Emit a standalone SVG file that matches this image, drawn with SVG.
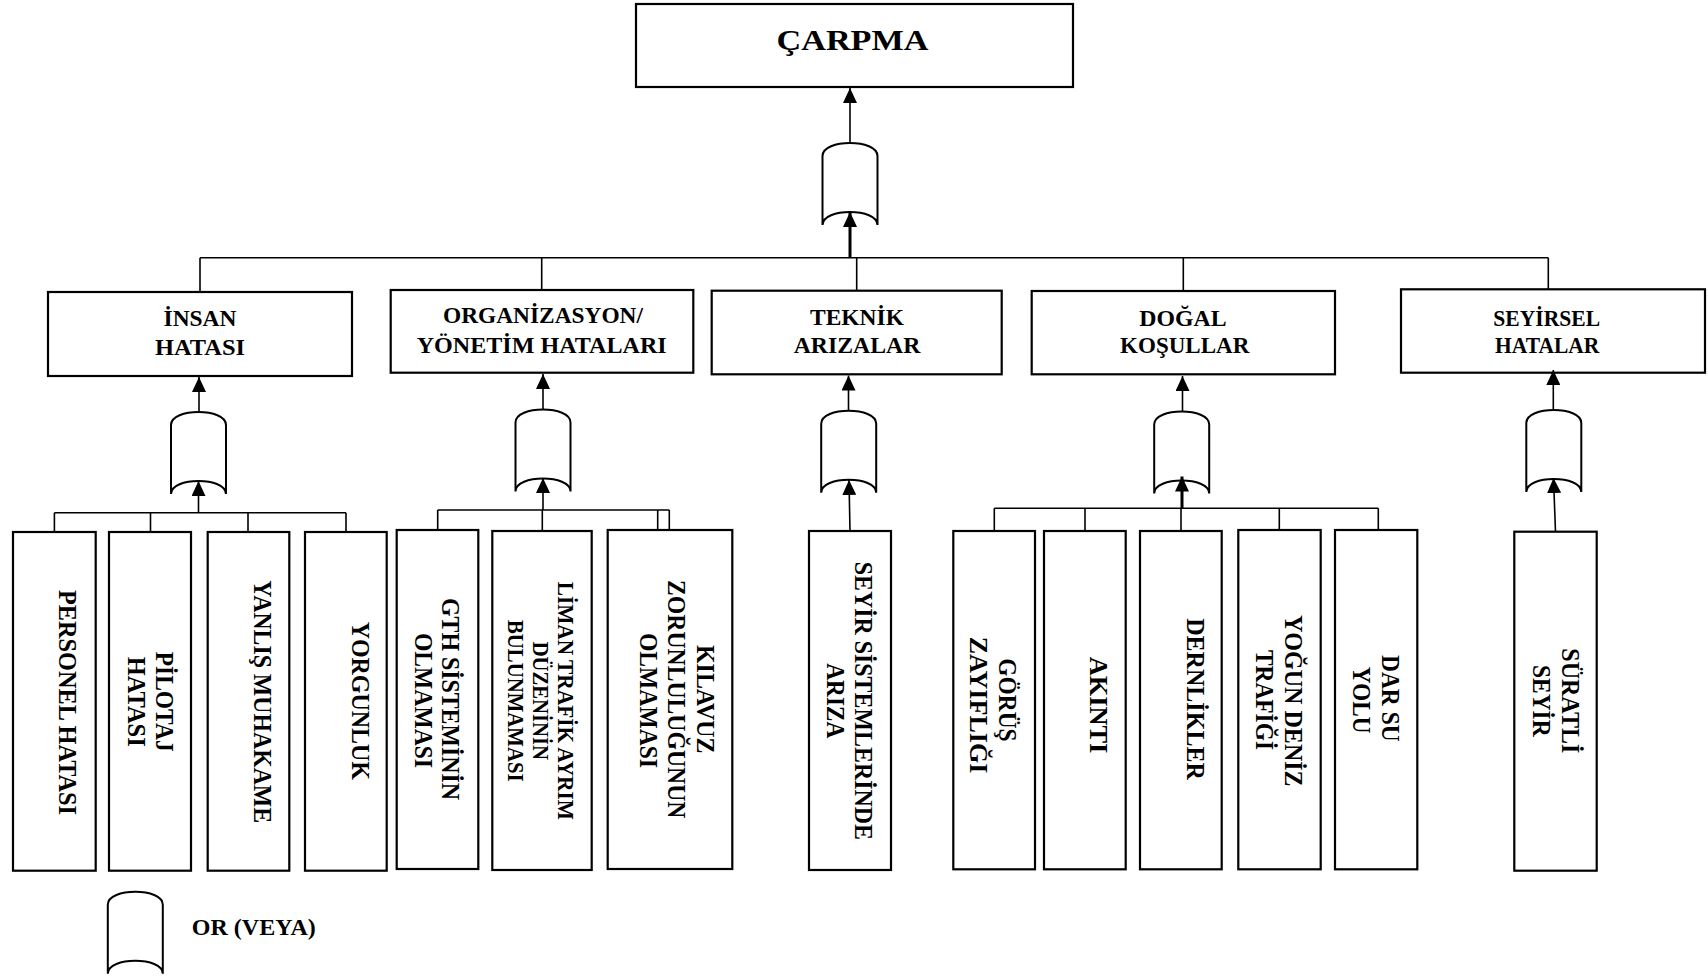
<svg xmlns="http://www.w3.org/2000/svg" width="1708" height="978" viewBox="0 0 1708 978">
  <style>
    .box { fill: #fff; stroke: #000; stroke-width: 2.2; }
    .gate { fill: #fff; stroke: #000; stroke-width: 2; }
    .lbl { font-family: "Liberation Serif", "Times New Roman", serif; font-weight: bold; fill: #000; text-anchor: middle; }
    .top { font-size: 29px; }
    .hdr { font-size: 22.5px; }
    .leaf { font-size: 26px; }
    .leafs { font-size: 23px; }
    .ln { fill: none; stroke: #000; stroke-width: 1.6; }
    .thick { stroke-width: 3; }
    .arr { marker-end: url(#head); }
  </style>
  <defs>
    <marker id="head" viewBox="0 0 15 14" refX="15" refY="7" markerWidth="15" markerHeight="14" markerUnits="userSpaceOnUse" orient="auto">
      <path d="M0,0 L15,7 L0,14 Z" fill="#000"/>
    </marker>
    <!-- OR gate outline, origin at the top centre of the dome -->
    <path id="orgate" d="M-27.5,82 L-27.5,13 C-27.5,-4.3 27.5,-4.3 27.5,13 L27.5,82 C27.5,64.7 -27.5,64.7 -27.5,82 Z"/>
  </defs>

  <rect width="1708" height="978" fill="#fff"/>

  <!-- top event -->
  <g id="carpma">
    <rect class="box" x="636" y="4" width="437" height="83"/>
    <text class="lbl top" x="852.5" y="49.5" textLength="152" lengthAdjust="spacingAndGlyphs">ÇARPMA</text>
  </g>
  <g id="gate-carpma"><use href="#orgate" class="gate" transform="translate(850,143)"/></g>

  <!-- intermediate events -->
  <g id="insan">
    <rect class="box" x="48" y="292" width="304" height="84"/>
    <text class="lbl hdr" x="200" y="325.7" textLength="73" lengthAdjust="spacingAndGlyphs">İNSAN</text>
    <text class="lbl hdr" x="200" y="355" textLength="90" lengthAdjust="spacingAndGlyphs">HATASI</text>
  </g>
  <g id="gate-insan"><use href="#orgate" class="gate" transform="translate(198.5,412)"/></g>

  <g id="organizasyon">
    <rect class="box" x="390.7" y="290" width="302.6" height="82.7"/>
    <text class="lbl hdr" x="543" y="323.3" textLength="200" lengthAdjust="spacingAndGlyphs">ORGANİZASYON/</text>
    <text class="lbl hdr" x="541.7" y="352.7" textLength="250" lengthAdjust="spacingAndGlyphs">YÖNETİM HATALARI</text>
  </g>
  <g id="gate-organizasyon"><use href="#orgate" class="gate" transform="translate(543,409.5)"/></g>

  <g id="teknik">
    <rect class="box" x="711.7" y="290.7" width="290" height="83.6"/>
    <text class="lbl hdr" x="857" y="325" textLength="94" lengthAdjust="spacingAndGlyphs">TEKNİK</text>
    <text class="lbl hdr" x="857" y="352.7" textLength="126.7" lengthAdjust="spacingAndGlyphs">ARIZALAR</text>
  </g>
  <g id="gate-teknik"><use href="#orgate" class="gate" transform="translate(848.7,410.7)"/></g>

  <g id="dogal">
    <rect class="box" x="1031.7" y="291" width="303.3" height="83.3"/>
    <text class="lbl hdr" x="1183" y="326" textLength="87.3" lengthAdjust="spacingAndGlyphs">DOĞAL</text>
    <text class="lbl hdr" x="1184.7" y="353.3" textLength="129.3" lengthAdjust="spacingAndGlyphs">KOŞULLAR</text>
  </g>
  <g id="gate-dogal"><use href="#orgate" class="gate" transform="translate(1181.7,411.5)"/></g>

  <g id="seyirsel">
    <rect class="box" x="1401" y="289.3" width="304" height="83.4"/>
    <text class="lbl hdr" x="1546.7" y="326" textLength="106.7" lengthAdjust="spacingAndGlyphs">SEYİRSEL</text>
    <text class="lbl hdr" x="1547.2" y="352.7" textLength="104.3" lengthAdjust="spacingAndGlyphs">HATALAR</text>
  </g>
  <g id="gate-seyirsel"><use href="#orgate" class="gate" transform="translate(1553.8,410)"/></g>

  <!-- basic events, labels run top to bottom -->
  <g id="personel-hatasi">
    <rect class="box" x="13" y="532" width="82.7" height="338.7"/>
    <text class="lbl leaf" transform="translate(59.3,702.5) rotate(90)" textLength="225" lengthAdjust="spacingAndGlyphs">PERSONEL HATASI</text>
  </g>
  <g id="pilotaj-hatasi">
    <rect class="box" x="109" y="532" width="82" height="338.7"/>
    <text class="lbl leaf" transform="translate(156,701.7) rotate(90)" textLength="100" lengthAdjust="spacingAndGlyphs">PİLOTAJ</text>
    <text class="lbl leaf" transform="translate(127.7,701.7) rotate(90)" textLength="90" lengthAdjust="spacingAndGlyphs">HATASI</text>
  </g>
  <g id="yanlis-muhakame">
    <rect class="box" x="207.7" y="532" width="81.6" height="338.7"/>
    <text class="lbl leaf" transform="translate(254,701.7) rotate(90)" textLength="243" lengthAdjust="spacingAndGlyphs">YANLIŞ MUHAKAME</text>
  </g>
  <g id="yorgunluk">
    <rect class="box" x="305" y="532" width="81.7" height="338.7"/>
    <text class="lbl leaf" transform="translate(351.7,700.8) rotate(90)" textLength="158.3" lengthAdjust="spacingAndGlyphs">YORGUNLUK</text>
  </g>

  <g id="gth">
    <rect class="box" x="396.7" y="530" width="81.6" height="339"/>
    <text class="lbl leaf" transform="translate(441.7,699) rotate(90)" textLength="202" lengthAdjust="spacingAndGlyphs">GTH SİSTEMİNİN</text>
    <text class="lbl leaf" transform="translate(415,700.5) rotate(90)" textLength="135" lengthAdjust="spacingAndGlyphs">OLMAMASI</text>
  </g>
  <g id="liman-trafik">
    <rect class="box" x="492.3" y="531" width="99.4" height="339"/>
    <text class="lbl leafs" transform="translate(558.3,700.8) rotate(90)" textLength="238.3" lengthAdjust="spacingAndGlyphs">LİMAN TRAFİK AYRIM</text>
    <text class="lbl leafs" transform="translate(533.3,700.8) rotate(90)" textLength="118.3" lengthAdjust="spacingAndGlyphs">DÜZENİNİN</text>
    <text class="lbl leafs" transform="translate(508.3,700.8) rotate(90)" textLength="161.7" lengthAdjust="spacingAndGlyphs">BULUNMAMASI</text>
  </g>
  <g id="kilavuz">
    <rect class="box" x="607.7" y="530" width="124.6" height="339"/>
    <text class="lbl leaf" transform="translate(696.7,699.2) rotate(90)" textLength="108.3" lengthAdjust="spacingAndGlyphs">KILAVUZ</text>
    <text class="lbl leaf" transform="translate(668.3,699.2) rotate(90)" textLength="238.3" lengthAdjust="spacingAndGlyphs">ZORUNLULUĞUNUN</text>
    <text class="lbl leaf" transform="translate(640,700.5) rotate(90)" textLength="135" lengthAdjust="spacingAndGlyphs">OLMAMASI</text>
  </g>

  <g id="seyir-sistemleri">
    <rect class="box" x="809" y="531" width="82" height="339"/>
    <text class="lbl leaf" transform="translate(855,700.8) rotate(90)" textLength="278.3" lengthAdjust="spacingAndGlyphs">SEYİR SİSTEMLERİNDE</text>
    <text class="lbl leaf" transform="translate(826.7,700.8) rotate(90)" textLength="75" lengthAdjust="spacingAndGlyphs">ARIZA</text>
  </g>

  <g id="gorus">
    <rect class="box" x="953.3" y="531" width="81.7" height="338.3"/>
    <text class="lbl leaf" transform="translate(999.3,700) rotate(90)" textLength="83.3" lengthAdjust="spacingAndGlyphs">GÖRÜŞ</text>
    <text class="lbl leaf" transform="translate(970,705) rotate(90)" textLength="136.7" lengthAdjust="spacingAndGlyphs">ZAYIFLIĞI</text>
  </g>
  <g id="akinti">
    <rect class="box" x="1044" y="531" width="81.7" height="338.3"/>
    <text class="lbl leaf" transform="translate(1090,705) rotate(90)" textLength="96.7" lengthAdjust="spacingAndGlyphs">AKINTI</text>
  </g>
  <g id="dernlikler">
    <rect class="box" x="1140" y="531" width="81.7" height="338.3"/>
    <text class="lbl leaf" transform="translate(1186.7,699) rotate(90)" textLength="161.7" lengthAdjust="spacingAndGlyphs">DERNLİKLER</text>
  </g>
  <g id="yogun-trafik">
    <rect class="box" x="1238.3" y="530" width="82.4" height="339.3"/>
    <text class="lbl leaf" transform="translate(1285,700.8) rotate(90)" textLength="171.7" lengthAdjust="spacingAndGlyphs">YOĞUN DENİZ</text>
    <text class="lbl leaf" transform="translate(1256,700) rotate(90)" textLength="100" lengthAdjust="spacingAndGlyphs">TRAFİĞİ</text>
  </g>
  <g id="dar-su">
    <rect class="box" x="1335" y="530" width="82.3" height="339.3"/>
    <text class="lbl leaf" transform="translate(1381.7,698.3) rotate(90)" textLength="86.7" lengthAdjust="spacingAndGlyphs">DAR SU</text>
    <text class="lbl leaf" transform="translate(1353.3,700) rotate(90)" textLength="66.7" lengthAdjust="spacingAndGlyphs">YOLU</text>
  </g>

  <g id="suratli-seyir">
    <rect class="box" x="1514.3" y="531.7" width="82.4" height="339"/>
    <text class="lbl leaf" transform="translate(1561.7,700.8) rotate(90)" textLength="105" lengthAdjust="spacingAndGlyphs">SÜRATLİ</text>
    <text class="lbl leaf" transform="translate(1533.3,700.8) rotate(90)" textLength="71.7" lengthAdjust="spacingAndGlyphs">SEYİR</text>
  </g>

  <!-- legend -->
  <g id="legend">
    <use href="#orgate" class="gate" transform="translate(135.3,891.7)"/>
    <text class="lbl hdr" x="253.8" y="935" textLength="124" lengthAdjust="spacingAndGlyphs">OR (VEYA)</text>
  </g>

  <!-- connectors -->
  <g id="connectors">
    <!-- main level -->
    <path class="ln arr" d="M850,143 V88"/>
    <path class="ln thick arr" d="M850,257.8 V212"/>
    <path class="ln" d="M200,257.8 H1548.3"/>
    <path class="ln" d="M200,257.8 V292 M541.7,257.8 V290 M856.7,257.8 V290.7 M1183.3,257.8 V291 M1548.3,257.8 V289.3"/>

    <!-- İNSAN HATASI branch -->
    <path class="ln arr" d="M199,412 V377"/>
    <path class="ln arr" d="M198.5,512.7 V481"/>
    <path class="ln" d="M54.4,512.7 H346 M54.4,512.7 V532 M150.5,512.7 V532 M248,512.7 V532 M346,512.7 V532"/>

    <!-- ORGANİZASYON branch -->
    <path class="ln arr" d="M543,409.5 V374"/>
    <path class="ln arr" d="M543,510 V478"/>
    <path class="ln" d="M437.7,510 H669.3 M437.7,510 V530 M542.3,510 V531 M657.7,510 V530 M669.3,510 V530"/>

    <!-- TEKNİK branch -->
    <path class="ln arr" d="M848.5,410.7 V375.5"/>
    <path class="ln arr" d="M850,531 L849,480"/>

    <!-- DOĞAL KOŞULLAR branch -->
    <path class="ln arr" d="M1182.5,411.5 V376"/>
    <path class="ln thick arr" d="M1182,508.3 V476.5"/>
    <path class="ln" d="M994.3,508.3 H1378.3 M994.3,508.3 V531 M1085,508.3 V531 M1181,508.3 V531 M1279.3,508.3 V530 M1378.3,508.3 V530"/>

    <!-- SEYİRSEL branch -->
    <path class="ln arr" d="M1553.3,410 V370"/>
    <path class="ln arr" d="M1555.5,531.7 L1553.5,478"/>
  </g>
</svg>
